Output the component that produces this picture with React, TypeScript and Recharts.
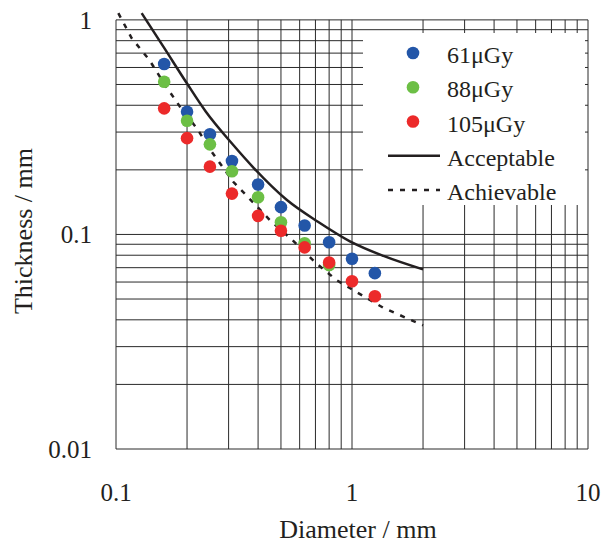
import { ComposedChart, Line, Scatter, XAxis, YAxis, ReferenceLine, Legend } from "recharts";

const FONT = '"Liberation Serif", "Times New Roman", serif';
const INK = "#231f20";

// measured points (diameter in mm)
const diameters = [0.16, 0.2, 0.25, 0.31, 0.4, 0.5, 0.63, 0.8, 1.0, 1.25];
const thick61 = [0.623, 0.373, 0.293, 0.22, 0.171, 0.134, 0.11, 0.092, 0.077, 0.066];
const diameters88 = [0.16, 0.2, 0.25, 0.31, 0.4, 0.5, 0.63, 0.8];
const thick88 = [0.515, 0.339, 0.263, 0.197, 0.149, 0.114, 0.091, 0.072];
const thick105 = [0.387, 0.281, 0.207, 0.155, 0.122, 0.104, 0.087, 0.074, 0.0605, 0.0515];

// curves
const acceptableX = [0.1285, 0.16, 0.2, 0.24, 0.314, 0.382, 0.53, 0.72, 0.98, 1.36, 2.0];
const acceptableY = [1.075, 0.74, 0.505, 0.374, 0.261, 0.205, 0.1447, 0.1143, 0.0929, 0.0794, 0.0687];
const achievableX = [0.1023, 0.1166, 0.1384, 0.1613, 0.1867, 0.22, 0.2544, 0.314, 0.37, 0.449, 0.56, 0.697, 0.861, 1.013, 1.357, 2.0];
const achievableY = [1.075, 0.821, 0.651, 0.497, 0.394, 0.3124, 0.2429, 0.176, 0.1457, 0.1166, 0.094, 0.0742, 0.0612, 0.055, 0.0455, 0.0377];

const xTicks = [0.1, 1, 10];
const yTicks = [0.01, 0.1, 1];
const xGrid = [0.1, 0.2, 0.3, 0.4, 0.5, 0.6, 0.7, 0.8, 0.9, 1, 2, 3, 4, 5, 6, 7, 8, 9, 10];
const yGrid = [0.01, 0.02, 0.03, 0.04, 0.05, 0.06, 0.07, 0.08, 0.09, 0.1, 0.2, 0.3, 0.4, 0.5, 0.6, 0.7, 0.8, 0.9, 1];

const toPoints = (xs: number[], ys: number[]) => ys.map((y, i) => ({ x: xs[i], y }));

const dotSeries = [
  { name: "61μGy", color: "#2356a8", data: toPoints(diameters, thick61) },
  { name: "88μGy", color: "#6cbf45", data: toPoints(diameters88, thick88) },
  { name: "105μGy", color: "#ec2a2a", data: toPoints(diameters, thick105) },
];

const lineSeries = [
  { name: "Acceptable", dash: undefined, type: "monotone", data: toPoints(acceptableX, acceptableY) },
  { name: "Achievable", dash: "5 7", type: "linear", data: toPoints(achievableX, achievableY) },
];

const XTitle = () => (
  <text x={358} y={538} textAnchor="middle" fontFamily={FONT} fontSize={26} fill={INK}>
    Diameter / mm
  </text>
);

const YTitle = () => (
  <text x={32} y={231} transform="rotate(-90, 32, 231)" textAnchor="middle" fontFamily={FONT} fontSize={26} fill={INK}>
    Thickness / mm
  </text>
);

const renderLegend = () => (
  <svg width={222} height={172} style={{ display: "block" }}>
    {dotSeries.map((s, i) => (
      <g key={s.name}>
        <circle cx={50} cy={20 + i * 34.25} r={6.3} fill={s.color} />
        <text x={84} y={30 + i * 34.25} fontFamily={FONT} fontSize={24} fill={INK}>
          {s.name}
        </text>
      </g>
    ))}
    {lineSeries.map((s, j) => {
      const cy = 20 + (j + 3) * 34.25;
      return (
        <g key={s.name}>
          <line x1={25} x2={77} y1={cy} y2={cy} stroke={INK} strokeWidth={2.5} strokeDasharray={s.dash} />
          <text x={84} y={cy + 10} fontFamily={FONT} fontSize={24} fill={INK}>
            {s.name}
          </text>
        </g>
      );
    })}
  </svg>
);

export default function App() {
  return (
    <div style={{ position: "absolute", left: 0, top: 0, background: "#fff" }}>
      <ComposedChart width={601} height={546} margin={{ top: 11, right: 13, bottom: 37, left: 0 }}>
        <XAxis
          dataKey="x"
          type="number"
          scale="log"
          domain={[0.1, 10]}
          ticks={xTicks}
          tickFormatter={(v) => String(v)}
          axisLine={false}
          tickLine={false}
          tickSize={0}
          tickMargin={34}
          height={60}
          tick={{ fontFamily: FONT, fontSize: 25, fill: INK }}
          label={<XTitle />}
        />
        <YAxis
          dataKey="y"
          type="number"
          scale="log"
          domain={[0.01, 1.1]}
          ticks={yTicks}
          tickFormatter={(v) => String(v)}
          axisLine={false}
          tickLine={false}
          tickSize={0}
          tickMargin={24}
          width={116}
          tick={{ fontFamily: FONT, fontSize: 25, fill: INK }}
          label={<YTitle />}
        />
        {yGrid.map((v) => (
          <ReferenceLine key={"h" + v} y={v} stroke="#2a2a2a" strokeWidth={1} />
        ))}
        {xGrid.map((v) => (
          <ReferenceLine key={"v" + v} segment={[{ x: v, y: 0.01 }, { x: v, y: 1 }]} stroke="#2a2a2a" strokeWidth={1} />
        ))}
        {lineSeries.map((s) => (
          <Line
            key={s.name}
            data={s.data}
            dataKey="y"
            name={s.name}
            type={s.type as any}
            stroke={INK}
            strokeWidth={2.5}
            strokeDasharray={s.dash}
            dot={false}
            activeDot={false}
            isAnimationActive={false}
          />
        ))}
        {dotSeries.map((s) => (
          <Scatter
            key={s.name}
            data={s.data}
            dataKey="y"
            name={s.name}
            fill={s.color}
            isAnimationActive={false}
            shape={(p: any) => <circle cx={p.cx} cy={p.cy} r={6.3} fill={s.color} />}
          />
        ))}
        <Legend
          layout="vertical"
          align="center"
          verticalAlign="middle"
          content={renderLegend}
          wrapperStyle={{ left: 363, top: 33, width: 222, height: 172, background: "#fff" }}
        />
      </ComposedChart>
    </div>
  );
}
